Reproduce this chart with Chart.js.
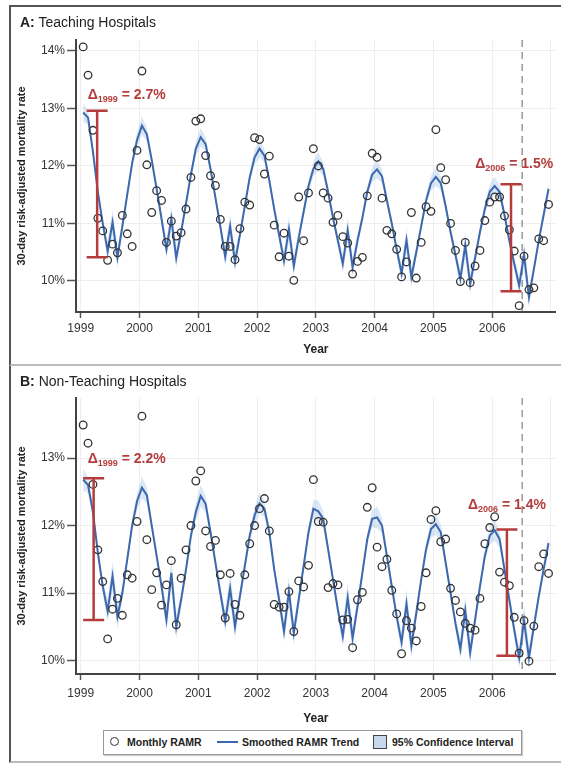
<!DOCTYPE html>
<html>
<head>
<meta charset="utf-8">
<script src="https://cdn.jsdelivr.net/npm/chart.js@4.4.1/dist/chart.umd.min.js"></script>
<style>
  body { margin: 0; width: 561px; height: 764px; position: relative; overflow: hidden; background: #fff;
         font-family: "Liberation Sans", Arial, sans-serif; color: #222; }
  .panel { position: absolute; left: 9px; width: 560px; box-sizing: border-box; border-left: 2px solid #555; }
  #panelA { top: 5px; height: 361px; border-top: 2px solid #555; border-bottom: 2px solid #bbb; }
  #panelB { top: 366px; height: 397px; border-bottom: 2px solid #bbb; }
  .ptitle { position: absolute; left: 20px; font-size: 14px; line-height: 16px; white-space: nowrap; }
  canvas { position: absolute; left: 0; }
  #chartA { top: 0; }
  #chartB { top: 366px; }
  #legend { position: absolute; left: 103px; top: 730px; width: 419px; height: 25px; box-sizing: border-box;
            border: 1px solid #999; box-shadow: 1px 1px 1px #ccc; background: #fff; }
  #legend span { position: absolute; }
  #legend .txt { top: 5px; font-size: 10.5px; font-weight: bold; line-height: 13px; white-space: nowrap; }
</style>
</head>
<body>
<div class="panel" id="panelA"></div>
<div class="panel" id="panelB"></div>
<canvas id="chartA" width="561" height="365"></canvas>
<canvas id="chartB" width="561" height="360"></canvas>
<div class="ptitle" style="top:14px"><b>A:</b> Teaching Hospitals</div>
<div class="ptitle" style="top:373px"><b>B:</b> Non-Teaching Hospitals</div>
<div id="legend">
  <span style="left:6px;top:6px;width:7px;height:7px;border:1.6px solid #333;border-radius:50%"></span>
  <span class="txt" style="left:23px">Monthly RAMR</span>
  <span style="left:113px;top:10px;width:21px;height:2px;background:#3d68ad"></span>
  <span class="txt" style="left:138px">Smoothed RAMR Trend</span>
  <span style="left:269px;top:4px;width:12px;height:12px;border:1.5px solid #444;background:#c6d7ee"></span>
  <span class="txt" style="left:288px">95% Confidence Interval</span>
</div>
<script>
// study years, monthly points sit in the middle of each month
const years = [1999, 2000, 2001, 2002, 2003, 2004, 2005, 2006];
const xTicks = [1999, 2000, 2001, 2002, 2003, 2004, 2005, 2006, 2007];
const yTicksA = [10, 11, 12, 13, 14];
const yTicksB = [10, 11, 12, 13];

// A: teaching hospitals, monthly RAMR (%)
const teachingRamr = [
  14.07, 13.58, 12.62, 11.09, 10.87, 10.36, 10.64, 10.49, 11.14, 10.82, 10.60, 12.27,
  13.65, 12.02, 11.19, 11.57, 11.40, 10.67, 11.04, 10.78, 10.84, 11.25, 11.80, 12.78,
  12.82, 12.18, 11.83, 11.66, 11.07, 10.60, 10.60, 10.37, 10.91, 11.37, 11.32, 12.49,
  12.46, 11.86, 12.17, 10.97, 10.42, 10.83, 10.43, 10.01, 11.46, 10.70, 11.53, 12.30,
  12.00, 11.53, 11.44, 11.02, 11.14, 10.77, 10.66, 10.12, 10.34, 10.41, 11.48, 12.22,
  12.15, 11.44, 10.88, 10.82, 10.55, 10.07, 10.33, 11.19, 10.05, 10.67, 11.29, 11.21,
  12.63, 11.97, 11.76, 11.00, 10.53, 9.99, 10.67, 9.97, 10.26, 10.53, 11.05, 11.37,
  11.46, 11.46, 11.13, 10.89, 10.52, 9.57, 10.43, 9.85, 9.88, 10.73, 10.70, 11.33
];
const teachingTrend = [
  12.93, 12.84, 12.25, 11.55, 11.00, 10.52, 11.02, 10.41, 10.95, 11.50, 12.05, 12.45,
  12.70, 12.55, 12.10, 11.60, 11.08, 10.55, 11.08, 10.40, 10.85, 11.35, 11.85, 12.30,
  12.50, 12.38, 11.95, 11.45, 10.95, 10.42, 10.95, 10.33, 10.80, 11.30, 11.80, 12.15,
  12.30, 12.18, 11.75, 11.25, 10.80, 10.35, 10.90, 10.26, 10.75, 11.20, 11.65, 11.95,
  12.08, 11.95, 11.55, 11.10, 10.70, 10.30, 10.88, 10.24, 10.70, 11.10, 11.55, 11.85,
  11.94, 11.82, 11.40, 11.00, 10.55, 10.13, 10.71, 10.07, 10.50, 10.95, 11.40, 11.70,
  11.81, 11.70, 11.30, 10.85, 10.45, 10.04, 10.62, 9.95, 10.40, 10.85, 11.25, 11.55,
  11.65, 11.55, 11.15, 10.70, 10.30, 9.92, 10.45, 9.72, 10.20, 10.70, 11.15, 11.60
];

// B: non-teaching hospitals, monthly RAMR (%)
const nonTeachingRamr = [
  13.49, 13.22, 12.61, 11.64, 11.17, 10.32, 10.76, 10.92, 10.67, 11.27, 11.22, 12.06,
  13.62, 11.79, 11.05, 11.30, 10.82, 11.12, 11.48, 10.53, 11.22, 11.64, 12.00, 12.66,
  12.81, 11.92, 11.69, 11.78, 11.27, 10.63, 11.29, 10.83, 10.67, 11.27, 11.73, 12.00,
  12.25, 12.40, 11.92, 10.83, 10.79, 10.79, 11.02, 10.43, 11.18, 11.09, 11.41, 12.68,
  12.06, 12.05, 11.08, 11.14, 11.12, 10.60, 10.61, 10.19, 10.90, 11.01, 12.27, 12.56,
  11.68, 11.39, 11.50, 11.04, 10.69, 10.10, 10.59, 10.48, 10.29, 10.80, 11.30, 12.09,
  12.22, 11.76, 11.80, 11.07, 10.89, 10.72, 10.55, 10.48, 10.45, 10.92, 11.73, 11.97,
  12.13, 11.31, 11.16, 11.11, 10.64, 10.11, 10.59, 9.99, 10.51, 11.39, 11.58, 11.29
];
const nonTeachingTrend = [
  12.68, 12.60, 12.20, 11.60, 11.10, 10.73, 11.25, 10.65, 11.00, 11.50, 12.00, 12.36,
  12.56, 12.45, 12.00, 11.55, 11.10, 10.60, 11.30, 10.50, 10.90, 11.35, 11.85, 12.20,
  12.44, 12.32, 11.90, 11.45, 11.00, 10.58, 11.07, 10.50, 10.95, 11.40, 11.85, 12.15,
  12.33, 12.25, 11.90, 11.35, 10.90, 10.43, 11.02, 10.41, 10.90, 11.40, 11.90, 12.25,
  12.21, 12.10, 11.65, 11.20, 10.75, 10.36, 10.93, 10.33, 10.80, 11.30, 11.80, 12.10,
  12.12, 12.00, 11.55, 11.10, 10.65, 10.27, 10.84, 10.22, 10.70, 11.20, 11.65, 11.95,
  12.02, 11.90, 11.45, 11.00, 10.55, 10.17, 10.74, 10.12, 10.60, 11.10, 11.55, 11.85,
  11.93, 11.80, 11.35, 10.90, 10.45, 10.04, 10.59, 10.04, 10.50, 10.95, 11.35, 11.74
];

// half width of the 95% band by calendar month (same look every year)
const ciHalfWidth = [0.16, 0.12, 0.09, 0.08, 0.10, 0.16, 0.22, 0.18, 0.10, 0.08, 0.09, 0.13];

// reform cut-off (July 2006) and the seasonal swing brackets
const cutoff = 2006.51;
const deltasA = [
  { x: 1999.28, top: 12.96, bottom: 10.41, sub: '1999', text: '2.7%', lx: 1999.12, ly: 13.16, align: 'left' },
  { x: 2006.32, top: 11.68, bottom: 9.82, sub: '2006', text: '1.5%', lx: 2006.375, ly: 11.96, align: 'center' }
];
const deltasB = [
  { x: 1999.22, top: 12.70, bottom: 10.60, sub: '1999', text: '2.2%', lx: 1999.12, ly: 12.92, align: 'left' },
  { x: 2006.25, top: 11.94, bottom: 10.07, sub: '2006', text: '1.4%', lx: 2006.25, ly: 12.25, align: 'center' }
];

const FONT = '"Liberation Sans", Arial, sans-serif';
const RED = '#b43c3c';

function toPoints(values) {
  return values.map((v, i) => ({ x: years[Math.floor(i / 12)] + (i % 12 + 0.5) / 12, y: v }));
}

function drawDelta(ctx, x, y, sub, text, align) {
  ctx.textAlign = 'left';
  ctx.textBaseline = 'alphabetic';
  ctx.font = 'bold 14px ' + FONT;
  const w1 = ctx.measureText('\u0394').width;
  const w3 = ctx.measureText(' = ' + text).width;
  ctx.font = 'bold 9px ' + FONT;
  const w2 = ctx.measureText(sub).width;
  const x0 = align === 'center' ? x - (w1 + w2 + w3) / 2 : x;
  ctx.fillStyle = RED;
  ctx.font = 'bold 14px ' + FONT;
  ctx.fillText('\u0394', x0, y);
  ctx.font = 'bold 9px ' + FONT;
  ctx.fillText(sub, x0 + w1, y + 3);
  ctx.font = 'bold 14px ' + FONT;
  ctx.fillText(' = ' + text, x0 + w1 + w2, y);
}

const deltaPlugin = {
  id: 'deltas',
  beforeDatasetsDraw(chart, args, opts) {
    const { ctx, chartArea, scales } = chart;
    const x = scales.x.getPixelForValue(opts.cutoff);
    ctx.save();
    ctx.strokeStyle = '#999';
    ctx.lineWidth = 1.5;
    ctx.setLineDash([7, 5]);
    ctx.beginPath();
    ctx.moveTo(x, chartArea.top);
    ctx.lineTo(x, chartArea.bottom);
    ctx.stroke();
    ctx.restore();
  },
  afterDatasetsDraw(chart, args, opts) {
    const { ctx, scales } = chart;
    ctx.save();
    opts.items.forEach(d => {
      const x = scales.x.getPixelForValue(d.x);
      const yt = scales.y.getPixelForValue(d.top);
      const yb = scales.y.getPixelForValue(d.bottom);
      ctx.strokeStyle = RED;
      ctx.lineWidth = 2.5;
      ctx.beginPath();
      ctx.moveTo(x, yt); ctx.lineTo(x, yb);
      ctx.moveTo(x - 10.5, yt); ctx.lineTo(x + 10.5, yt);
      ctx.moveTo(x - 10.5, yb); ctx.lineTo(x + 10.5, yb);
      ctx.stroke();
      drawDelta(ctx, scales.x.getPixelForValue(d.lx), scales.y.getPixelForValue(d.ly), d.sub, d.text, d.align);
    });
    ctx.restore();
  }
};

function makeChart(id, ramr, trend, yMin, yMax, yTicks, deltas, layout) {
  const upper = trend.map((v, i) => v + ciHalfWidth[i % 12]);
  const lower = trend.map((v, i) => v - ciHalfWidth[i % 12]);
  return new Chart(document.getElementById(id), {
    type: 'line',
    data: {
      datasets: [
        {
          label: 'Monthly RAMR',
          data: toPoints(ramr),
          showLine: false,
          pointRadius: 3.8,
          pointBorderWidth: 1.3,
          pointBorderColor: '#333',
          pointBackgroundColor: 'rgba(0,0,0,0)',
          order: 0
        },
        {
          label: 'Smoothed RAMR Trend',
          data: toPoints(trend),
          borderColor: '#3d68ad',
          borderWidth: 2,
          pointRadius: 0,
          tension: 0,
          fill: false,
          order: 1
        },
        {
          label: 'CI upper',
          data: toPoints(upper),
          borderWidth: 0,
          borderColor: 'rgba(0,0,0,0)',
          backgroundColor: 'rgba(150,185,230,0.35)',
          pointRadius: 0,
          fill: '+1',
          order: 2
        },
        {
          label: 'CI lower',
          data: toPoints(lower),
          borderWidth: 0,
          borderColor: 'rgba(0,0,0,0)',
          pointRadius: 0,
          fill: false,
          order: 3
        }
      ]
    },
    options: {
      responsive: false,
      animation: false,
      events: [],
      layout: { padding: { top: layout.top, left: 0, right: 0, bottom: 0 } },
      plugins: {
        legend: { display: false },
        tooltip: { enabled: false },
        deltas: { cutoff: cutoff, items: deltas }
      },
      scales: {
        x: {
          type: 'linear',
          min: 1998.92,
          max: 2007.08,
          afterBuildTicks: s => { s.ticks = xTicks.map(v => ({ value: v })); },
          afterFit: s => { s.height = layout.xHeight; },
          ticks: {
            padding: layout.xPad,
            color: '#333',
            font: { size: 12, family: FONT },
            maxRotation: 0,
            callback: v => (v === 2007 ? '' : String(v))
          },
          grid: {
            color: '#eeeeee',
            tickLength: 6,
            tickWidth: 1.5,
            tickColor: c => (c.tick && c.tick.value === 2007 ? 'rgba(0,0,0,0)' : '#555')
          },
          border: { color: '#444', width: 2 },
          title: {
            display: true,
            text: 'Year',
            color: '#222',
            font: { size: 12, weight: 'bold', family: FONT },
            padding: { top: 0, bottom: layout.titlePad }
          }
        },
        y: {
          min: yMin,
          max: yMax,
          afterBuildTicks: s => { s.ticks = yTicks.map(v => ({ value: v })); },
          afterFit: s => { s.width = 76; },
          ticks: {
            padding: 2,
            color: '#333',
            font: { size: 12, family: FONT },
            callback: v => v + '%'
          },
          grid: { color: '#eeeeee', tickLength: 9, tickWidth: 1.5, tickColor: '#555' },
          border: { color: '#444', width: 2 },
          title: {
            display: true,
            text: '30-day risk-adjusted mortality rate',
            color: '#222',
            font: { size: 11, weight: 'bold', family: FONT },
            padding: { top: 15, bottom: 0 }
          }
        }
      }
    },
    plugins: [deltaPlugin]
  });
}

makeChart('chartA', teachingRamr, teachingTrend, 9.46, 14.19, yTicksA, deltasA,
  { top: 40, xHeight: 53, xPad: 3, titlePad: 8.5 });
makeChart('chartB', nonTeachingRamr, nonTeachingTrend, 9.80, 13.89, yTicksB, deltasB,
  { top: 32, xHeight: 52, xPad: 6, titlePad: 0 });
</script>
</body>
</html>
